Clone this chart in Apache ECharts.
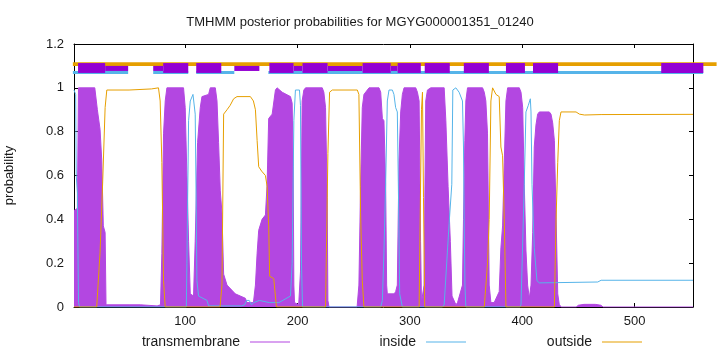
<!DOCTYPE html>
<html>
<head>
<meta charset="utf-8">
<script src="https://cdn.jsdelivr.net/npm/echarts@6/dist/echarts.min.js"></script>
<style>html,body{margin:0;padding:0;background:#fff}#c{width:720px;height:352px}</style>
</head>
<body>
<div id="c"></div>
<script>
const titleText = 'TMHMM posterior probabilities for MGYG000001351_01240';
const xTicks = [100, 200, 300, 400, 500];
const seqLen = 552;

// transmembrane posterior [residue, probability]
const tmData = [[1,0.44],[4,0.45],[5,1.0],[19.5,1.0],[21.8,0.9],[24.2,0.81],[25.7,0.67],[27.1,0.37],[28.7,0.34],[29.5,0.01],
[50,0.01],[60,0.01],[75,0.005],[78,0.01],
[79.2,0.245],[80.7,0.79],[82.2,0.94],[83.7,1.0],[98.5,1.0],[100,0.91],[101.5,0.6],[103,0.3],[104.5,0.06],[107.4,0.05],
[108.9,0.3],[111,0.75],[113.4,0.91],[114.9,0.96],[120.8,0.97],[122.3,1.0],[126.8,1.0],[128.3,0.94],[129.7,0.75],[131.2,0.53],[132.7,0.43],[134.2,0.15],[137.2,0.1],[144.6,0.06],[153.5,0.04],[155,0.02],[160.7,0.02],
[162.5,0.1],[164,0.245],[165.4,0.35],[168.4,0.40],[171.4,0.42],[172.9,0.56],[174.3,0.86],[177.4,0.88],[180.3,0.99],[181.8,1.0],[186.3,0.98],[193.7,0.96],[195.2,0.93],[196.1,0.64],[196.7,0.1],[197.3,0.02],[201,0.01],
[202.6,0.16],[204.1,0.94],[205.6,0.99],[207.1,1.0],[222,1.0],[223.4,0.98],[224.9,0.91],[226.4,0.5],[227,0.03],[228,0.0],[253,0.0],
[254.6,0.1],[256.1,0.55],[257.6,0.91],[259.1,0.97],[263.6,1.0],[272.5,1.0],[274,0.98],[275.5,0.86],[276.9,0.85],[278.4,0.56],[279.3,0.1],[279.9,0.06],[286,0.06],
[287.3,0.07],[288.8,0.1],[290.3,0.67],[291.8,0.89],[293.3,0.97],[294.8,1.0],[305.2,1.0],[306.7,0.98],[308.2,0.94],[309.5,0.3],[310.3,0.02],[312,0.02],
[312.6,0.1],[314.1,0.94],[315.6,0.99],[318.6,1.0],[330.5,1.0],[332,0.85],[334,0.55],[336,0.3],[337.5,0.05],[341,0.01],
[342.4,0.02],[346.8,0.1],[347.7,0.4],[348.9,0.76],[349.8,0.94],[351.3,1.0],[364.7,1.0],[366.2,0.98],[367.6,0.94],[369.1,0.79],[370.6,0.1],[372.1,0.02],
[375,0.02],[379.5,0.07],[381,0.27],[382.5,0.37],[384,0.66],[385.5,0.94],[387,1.0],[397.4,1.0],[398.9,0.98],[400.4,0.91],[401.8,0.56],[403.3,0.26],[404.8,0.1],[406.3,0.04],
[407.8,0.1],[409.3,0.34],[410.7,0.73],[412.2,0.83],[413.7,0.88],[415.2,0.89],[424.1,0.89],[425.6,0.88],[427.1,0.84],[428.6,0.76],[430.1,0.42],[431.6,0.06],[433,0.01],[435,0.0],
[448,0.0],[450,0.008],[455,0.012],[465,0.012],[470,0.008],[472,0.0],[552,0.0]];

// inside posterior
const insideData = [[1,0.99],[2.5,0.97],[3,0.6],[4,0.52],[5,0.02],[6,0.0],
[101,0.0],[101.5,0.2],[103,0.85],[104.5,0.94],[106.9,0.97],[108,0.97],[108.9,0.88],[109.8,0.45],[110.4,0.12],[111.9,0.05],[119.4,0.03],[120.8,0.005],
[150,0.005],[153,0.01],[154.5,0.03],[157,0.03],[159,0.01],[161,0.02],[166,0.03],[175,0.02],[183.3,0.02],[193.7,0.05],[195.2,0.2],[196.7,0.85],[198.1,0.99],[201.7,0.99],[202.6,0.92],[203.5,0.2],[204.4,0.0],
[274,0.0],[275.5,0.03],[276.9,0.25],[278.4,0.56],[279.9,0.94],[281.4,0.99],[284.4,0.99],[285.8,0.97],[287.3,0.91],[288.8,0.89],[289.7,0.56],[290.9,0.06],[293.3,0.0],
[329,0.0],[330.5,0.01],[334.9,0.38],[337.3,0.56],[338.2,0.99],[340.9,1.0],[343.8,0.98],[346.8,0.94],[347.7,0.73],[348.3,0.40],[349,0.1],[349.8,0.0],
[398,0.0],[398.9,0.01],[401.8,0.56],[403.3,0.89],[405.4,0.92],[407.2,0.95],[407.8,0.89],[408.7,0.56],[410.7,0.27],[413.1,0.12],[415.2,0.11],[467.2,0.114],[470.2,0.122],[552,0.122]];

// outside posterior
const outsideData = [[1,0.0],[21.2,0.0],[24.2,0.25],[26.6,0.58],[28.7,0.91],[30.2,0.99],[50,0.99],[70,0.995],[76.2,1.0],[77.7,0.94],[79.2,0.66],[80.7,0.12],[82.2,0.0],
[131,0.0],[132.7,0.1],[134.2,0.88],[137.2,0.90],[140,0.92],[143.1,0.95],[146.1,0.96],[158,0.96],[160.7,0.94],[162.5,0.9],[164,0.76],[165.4,0.64],[168,0.62],[171.4,0.6],[172.9,0.55],[174.3,0.37],[175.2,0.14],[178.8,0.13],[181.2,0.0],
[224.9,0.0],[227,0.7],[228.5,0.98],[230.9,0.99],[253.2,0.99],[254.6,0.97],[256.1,0.43],[257.6,0.12],[259.1,0.0],
[308.2,0.0],[310.3,0.9],[311.2,0.98],[312.1,0.5],[313.2,0.0],
[366.2,0.0],[369.1,0.2],[370.6,0.4],[372.1,0.94],[373.6,1.0],[376.6,0.97],[379.5,0.96],[381,0.73],[382.5,0.69],[384,0.4],[385.5,0.0],
[428.6,0.0],[430.1,0.4],[431.6,0.66],[433,0.85],[434.5,0.89],[447.9,0.89],[450.9,0.88],[455.4,0.876],[470.2,0.878],[552,0.879]];

// top band segments [start, end]
const outsideBand = [[0, 573]];
const insideBand = [[0, 49.2], [71.5, 102.7], [109.8, 143.7], [174, 561]];
const tmBandThick = [[4.6,28.7],[80.4,102.7],[109.8,132.1],[174.9,196.4],[204.4,226.7],[257.9,282.9],[289.1,309.7],[313.2,335.5],[348,370.3],[385.5,402.4],[409.6,431.9],[523.7,561.2]];
const tmBandThin = [[28.7,49.2],[71.5,80.4],[143.7,166],[196.4,204.4],[226.7,257.9],[282.9,289.1]];

const C_TM = '#9400d3', C_TM_FILL = '#b347e1', C_IN = '#56b4e9', C_OUT = '#e69f00';
const FONT = 'Liberation Sans';
const TXT = '#1a1a1a';

function bandSeries(data, lo, hi, color, z) {
  return {
    type: 'custom', data: data, clip: false, silent: true, z: z,
    encode: { x: [0, 1] },
    renderItem: function (params, api) {
      const p1 = api.coord([api.value(0), hi]);
      const p2 = api.coord([api.value(1), lo]);
      return { type: 'rect', shape: { x: p1[0], y: p1[1], width: p2[0] - p1[0], height: p2[1] - p1[1] }, style: { fill: color } };
    }
  };
}

function legendAt(name, right, color) {
  return {
    right: right, top: 330, align: 'right', icon: 'rect', itemWidth: 40, itemHeight: 1,
    data: [{ name: name, itemStyle: { color: color } }],
    textStyle: { fontFamily: FONT, fontSize: 14, color: TXT, padding: [0, 5, 0, 0] },
    selectedMode: false
  };
}

const chart = echarts.init(document.getElementById('c'), null, { renderer: 'canvas' });
chart.setOption({
  animation: false,
  backgroundColor: '#fff',
  title: { text: titleText, left: 'center', top: 11, textStyle: { fontFamily: FONT, fontSize: 13, fontWeight: 'normal', color: TXT } },
  grid: { left: 74, right: 27, top: 44, bottom: 45, outerBoundsMode: 'none' },
  legend: [legendAt('transmembrane', 425, C_TM_FILL), legendAt('inside', 249, C_IN), legendAt('outside', 73, C_OUT)],
  xAxis: [
    { type: 'value', min: 1, max: seqLen, position: 'bottom',
      axisLine: { show: true, onZero: false, lineStyle: { color: '#000', width: 1 } },
      axisTick: { show: true, inside: true, length: 4, customValues: xTicks, lineStyle: { color: '#000' } },
      axisLabel: { customValues: xTicks, margin: 8, fontFamily: FONT, fontSize: 13, color: TXT },
      splitLine: { show: false } },
    { type: 'value', min: 1, max: seqLen, position: 'top',
      axisLine: { show: true, onZero: false, lineStyle: { color: '#000', width: 1 } },
      axisTick: { show: true, inside: true, length: 4, customValues: xTicks, lineStyle: { color: '#000' } },
      axisLabel: { show: false }, splitLine: { show: false } }
  ],
  yAxis: [
    { type: 'value', min: 0, max: 1.2, interval: 0.2, position: 'left',
      name: 'probability', nameLocation: 'middle', nameGap: 58,
      nameTextStyle: { fontFamily: FONT, fontSize: 13, color: TXT },
      axisLine: { show: true, onZero: false, lineStyle: { color: '#000', width: 1 } },
      axisTick: { show: true, inside: true, length: 4, lineStyle: { color: '#000' } },
      axisLabel: { margin: 10, fontFamily: FONT, fontSize: 13, color: TXT, formatter: v => String(+v.toFixed(1)) },
      splitLine: { show: false } },
    { type: 'value', min: 0, max: 1.2, interval: 0.2, position: 'right',
      axisLine: { show: true, onZero: false, lineStyle: { color: '#000', width: 1 } },
      axisTick: { show: true, inside: true, length: 4, lineStyle: { color: '#000' } },
      axisLabel: { show: false }, splitLine: { show: false } }
  ],
  series: [
    { name: 'transmembrane', type: 'line', data: tmData, showSymbol: false, z: 2,
      lineStyle: { color: C_TM_FILL, width: 1 }, itemStyle: { color: C_TM_FILL },
      areaStyle: { color: C_TM_FILL, opacity: 1 } },
    { name: 'inside', type: 'line', data: insideData, showSymbol: false, z: 3,
      lineStyle: { color: C_IN, width: 1 }, itemStyle: { color: C_IN } },
    { name: 'outside', type: 'line', data: outsideData, showSymbol: false, z: 4,
      lineStyle: { color: C_OUT, width: 1 }, itemStyle: { color: C_OUT } },
    bandSeries(outsideBand, 1.100, 1.117, C_OUT, 5),
    bandSeries(insideBand, 1.063, 1.077, C_IN, 6),
    bandSeries(tmBandThin, 1.077, 1.100, C_TM, 7),
    bandSeries(tmBandThick, 1.068, 1.113, C_TM, 8)
  ]
});
</script>
</body>
</html>
